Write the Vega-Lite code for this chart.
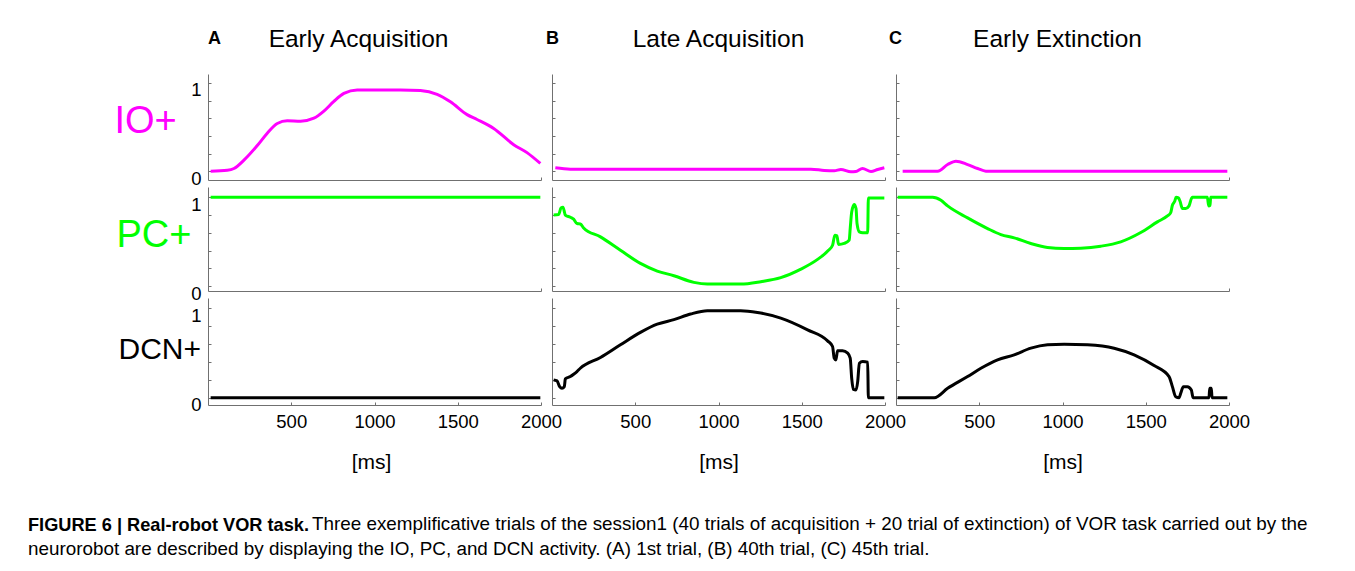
{
  "$schema": "https://vega.github.io/schema/vega-lite/v6.json",
  "padding": {"left": 28, "top": 26, "right": 5, "bottom": 5},
  "background": "white",
  "config": {
    "font": "Liberation Sans",
    "view": {"stroke": null},
    "title": {"font": "Liberation Sans", "color": "#000"},
    "axis": {
      "grid": false, "domainColor": "#707070", "tickColor": "#707070", "domainWidth": 1, "tickWidth": 1,
      "labelFont": "Liberation Sans", "labelFontSize": 18.5, "labelColor": "#000",
      "titleFont": "Liberation Sans", "titleFontWeight": "normal", "titleColor": "#000",
      "labelFlush": false, "labelOverlap": false, "labelBound": false
    }
  },
  "datasets": {
    "ioA": [{"t":16,"v":0},{"t":116,"v":0.01},{"t":156,"v":0.03},{"t":216,"v":0.125},{"t":296,"v":0.29},{"t":356,"v":0.43},{"t":416,"v":0.54},{"t":476,"v":0.57},{"t":556,"v":0.566},{"t":636,"v":0.6},{"t":696,"v":0.68},{"t":756,"v":0.79},{"t":816,"v":0.88},{"t":896,"v":0.92},{"t":1156,"v":0.92},{"t":1276,"v":0.913},{"t":1376,"v":0.87},{"t":1456,"v":0.785},{"t":1556,"v":0.64},{"t":1616,"v":0.585},{"t":1716,"v":0.483},{"t":1836,"v":0.30},{"t":1916,"v":0.21},{"t":1996,"v":0.087}],
    "ioB": [{"t":20,"v":0.038},{"t":110,"v":0.023},{"t":1555,"v":0.023},{"t":1635,"v":0.008},{"t":1695,"v":0.004},{"t":1735,"v":0.019},{"t":1795,"v":-0.008},{"t":1825,"v":-0.004},{"t":1865,"v":0.03},{"t":1916,"v":-0.004},{"t":1956,"v":0.019},{"t":1996,"v":0.038}],
    "ioC": [{"t":40,"v":0},{"t":250,"v":0},{"t":310,"v":0.075},{"t":360,"v":0.113},{"t":430,"v":0.075},{"t":490,"v":0.03},{"t":540,"v":0},{"t":1990,"v":0}],
    "pcA": [{"t":16,"v":1},{"t":1996,"v":1}],
    "pcB": [{"t":10,"v":0.80},{"t":40,"v":0.805},{"t":54,"v":0.88},{"t":66,"v":0.888},{"t":80,"v":0.80},{"t":110,"v":0.775},{"t":130,"v":0.753},{"t":150,"v":0.704},{"t":170,"v":0.70},{"t":190,"v":0.655},{"t":291,"v":0.554},{"t":411,"v":0.404},{"t":531,"v":0.255},{"t":632,"v":0.169},{"t":732,"v":0.116},{"t":852,"v":0.041},{"t":933,"v":0.022},{"t":1133,"v":0.022},{"t":1254,"v":0.049},{"t":1374,"v":0.094},{"t":1495,"v":0.19},{"t":1595,"v":0.30},{"t":1659,"v":0.40},{"t":1685,"v":0.46},{"t":1699,"v":0.573},{"t":1711,"v":0.566},{"t":1721,"v":0.468},{"t":1755,"v":0.48},{"t":1785,"v":0.517},{"t":1791,"v":0.648},{"t":1800,"v":0.835},{"t":1815,"v":0.918},{"t":1826,"v":0.873},{"t":1832,"v":0.704},{"t":1846,"v":0.61},{"t":1866,"v":0.60},{"t":1896,"v":0.60},{"t":1900,"v":0.993},{"t":1996,"v":0.993}],
    "pcC": [{"t":10,"v":1},{"t":220,"v":1},{"t":270,"v":0.966},{"t":310,"v":0.903},{"t":430,"v":0.768},{"t":550,"v":0.648},{"t":630,"v":0.58},{"t":710,"v":0.543},{"t":810,"v":0.479},{"t":910,"v":0.434},{"t":1010,"v":0.423},{"t":1110,"v":0.427},{"t":1230,"v":0.449},{"t":1350,"v":0.498},{"t":1470,"v":0.603},{"t":1570,"v":0.723},{"t":1630,"v":0.79},{"t":1650,"v":0.828},{"t":1660,"v":0.91},{"t":1674,"v":0.955},{"t":1682,"v":1},{"t":1696,"v":0.993},{"t":1706,"v":0.955},{"t":1720,"v":0.873},{"t":1740,"v":0.873},{"t":1760,"v":0.903},{"t":1774,"v":0.985},{"t":1780,"v":1},{"t":1870,"v":1},{"t":1878,"v":0.903},{"t":1886,"v":0.91},{"t":1890,"v":1},{"t":1990,"v":1}],
    "dcnA": [{"t":16,"v":0},{"t":1996,"v":0}],
    "dcnB": [{"t":10,"v":0.198},{"t":30,"v":0.187},{"t":46,"v":0.123},{"t":60,"v":0.104},{"t":74,"v":0.123},{"t":80,"v":0.209},{"t":110,"v":0.235},{"t":130,"v":0.261},{"t":150,"v":0.291},{"t":170,"v":0.328},{"t":291,"v":0.448},{"t":411,"v":0.59},{"t":531,"v":0.728},{"t":632,"v":0.82},{"t":732,"v":0.87},{"t":832,"v":0.933},{"t":933,"v":0.97},{"t":1133,"v":0.97},{"t":1234,"v":0.951},{"t":1374,"v":0.888},{"t":1535,"v":0.757},{"t":1655,"v":0.634},{"t":1685,"v":0.571},{"t":1695,"v":0.44},{"t":1705,"v":0.42},{"t":1715,"v":0.522},{"t":1745,"v":0.522},{"t":1776,"v":0.496},{"t":1791,"v":0.44},{"t":1800,"v":0.216},{"t":1810,"v":0.093},{"t":1826,"v":0.086},{"t":1836,"v":0.179},{"t":1846,"v":0.384},{"t":1866,"v":0.403},{"t":1896,"v":0.396},{"t":1900,"v":0},{"t":1996,"v":0}],
    "dcnC": [{"t":10,"v":0},{"t":230,"v":0},{"t":310,"v":0.104},{"t":430,"v":0.235},{"t":510,"v":0.328},{"t":610,"v":0.422},{"t":710,"v":0.478},{"t":810,"v":0.552},{"t":910,"v":0.59},{"t":1010,"v":0.597},{"t":1150,"v":0.59},{"t":1310,"v":0.552},{"t":1430,"v":0.478},{"t":1550,"v":0.358},{"t":1640,"v":0.235},{"t":1660,"v":0.123},{"t":1680,"v":0.011},{"t":1700,"v":0},{"t":1710,"v":0.049},{"t":1726,"v":0.123},{"t":1750,"v":0.123},{"t":1774,"v":0.086},{"t":1784,"v":0},{"t":1880,"v":0},{"t":1884,"v":0.104},{"t":1894,"v":0.104},{"t":1898,"v":0},{"t":1990,"v":0}]
  },
  "title": {"text": "neurorobot are described by displaying the IO, PC, and DCN activity. (A) 1st trial, (B) 40th trial, (C) 45th trial.", "orient": "bottom", "anchor": "start", "frame": "bounds", "fontSize": 18.85, "fontWeight": "normal", "baseline": "alphabetic", "offset": 21},
  "vconcat": [
    {
      "title": {"text": "Three exemplificative trials of the session1 (40 trials of acquisition + 20 trial of extinction) of VOR task carried out by the", "orient": "bottom", "anchor": "start", "frame": "bounds", "fontSize": 18.85, "fontWeight": "normal", "baseline": "alphabetic", "offset": 0, "dx": 284, "dy": -4},
      "vconcat": [
        {
          "title": {"text": "FIGURE 6 | Real-robot VOR task.", "orient": "bottom", "anchor": "start", "frame": "bounds", "fontSize": 18.2, "fontWeight": "bold", "baseline": "alphabetic", "offset": 59, "dx": -86},
          "columns": 3,
          "spacing": {"row": 7, "column": 11},
          "bounds": "flush",
          "concat": [
            {"title": {"text": "A", "anchor": "start", "frame": "group", "fontSize": 18, "fontWeight": "bold", "baseline": "alphabetic", "offset": 4}, "width": 333, "height": 1, "data": {"values": []}, "mark": "point", "encoding": {}},
            {"title": {"text": "B", "anchor": "start", "frame": "group", "fontSize": 18, "fontWeight": "bold", "baseline": "alphabetic", "offset": 4, "dx": -6}, "width": 333, "height": 1, "data": {"values": []}, "mark": "point", "encoding": {}},
            {"title": {"text": "C", "anchor": "start", "frame": "group", "fontSize": 18, "fontWeight": "bold", "baseline": "alphabetic", "offset": 4, "dx": -7}, "width": 333, "height": 1, "data": {"values": []}, "mark": "point", "encoding": {}},
            {
              "title": {"text": "Early Acquisition", "anchor": "middle", "frame": "group", "fontSize": 24.5, "fontWeight": "normal", "baseline": "alphabetic", "offset": 3, "dx": -16},
              "width": 333, "height": 106,
              "data": {"name": "ioA"},
              "mark": {"type": "line", "color": "#ff00ff", "strokeWidth": 3, "interpolate": "monotone"},
              "encoding": {
                "x": {"field": "t", "type": "quantitative", "scale": {"domain": [0, 2000], "nice": false}, "axis": {"values": [2000], "tickSize": -3, "labels": false, "title": null}},
                "y": {"field": "v", "type": "quantitative", "scale": {"domain": [-0.1, 1.1], "nice": false, "zero": false}, "axis": {"values": [0, 0.2, 0.4, 0.6, 0.8, 1], "tickSize": -3, "labelExpr": "datum.value == 0 ? '0' : datum.value == 1 ? '1' : ''", "labelBaseline": "top", "labelOffset": -2, "labelPadding": 10, "title": "IO+", "titleColor": "#ff00ff", "titleFontSize": 38, "titleAngle": 0, "titleAlign": "left", "titleBaseline": "middle", "titleX": -94, "titleY": 47}}
              }
            },
            {
              "title": {"text": "Late Acquisition", "anchor": "middle", "frame": "group", "fontSize": 24.5, "fontWeight": "normal", "baseline": "alphabetic", "offset": 3},
              "width": 333, "height": 106,
              "data": {"name": "ioB"},
              "mark": {"type": "line", "color": "#ff00ff", "strokeWidth": 3, "interpolate": "monotone"},
              "encoding": {
                "x": {"field": "t", "type": "quantitative", "scale": {"domain": [0, 2000], "nice": false}, "axis": {"values": [2000], "tickSize": -3, "labels": false, "title": null}},
                "y": {"field": "v", "type": "quantitative", "scale": {"domain": [-0.1, 1.1], "nice": false, "zero": false}, "axis": {"values": [0, 0.2, 0.4, 0.6, 0.8, 1], "tickSize": -3, "labels": false, "title": null}}
              }
            },
            {
              "title": {"text": "Early Extinction", "anchor": "middle", "frame": "group", "fontSize": 24.5, "fontWeight": "normal", "baseline": "alphabetic", "offset": 3, "dx": -5},
              "width": 333, "height": 106,
              "data": {"name": "ioC"},
              "mark": {"type": "line", "color": "#ff00ff", "strokeWidth": 3, "interpolate": "monotone"},
              "encoding": {
                "x": {"field": "t", "type": "quantitative", "scale": {"domain": [0, 2000], "nice": false}, "axis": {"values": [2000], "tickSize": -3, "labels": false, "title": null}},
                "y": {"field": "v", "type": "quantitative", "scale": {"domain": [-0.1, 1.1], "nice": false, "zero": false}, "axis": {"values": [0, 0.2, 0.4, 0.6, 0.8, 1], "tickSize": -3, "labels": false, "title": null}}
              }
            },
            {
              "width": 333, "height": 104,
              "data": {"name": "pcA"},
              "mark": {"type": "line", "color": "#00ff00", "strokeWidth": 3, "interpolate": "monotone"},
              "encoding": {
                "x": {"field": "t", "type": "quantitative", "scale": {"domain": [0, 2000], "nice": false}, "axis": {"values": [2000], "tickSize": -3, "labels": false, "title": null}},
                "y": {"field": "v", "type": "quantitative", "scale": {"domain": [-0.056, 1.116], "nice": false, "zero": false}, "axis": {"values": [0, 0.2, 0.4, 0.6, 0.8, 1], "tickSize": -3, "labelExpr": "datum.value == 0 ? '0' : datum.value == 1 ? '1' : ''", "labelBaseline": "top", "labelOffset": -2, "labelPadding": 10, "title": "PC+", "titleColor": "#00ff00", "titleFontSize": 38, "titleAngle": 0, "titleAlign": "left", "titleBaseline": "middle", "titleX": -92, "titleY": 48}}
              }
            },
            {
              "width": 333, "height": 104,
              "data": {"name": "pcB"},
              "mark": {"type": "line", "color": "#00ff00", "strokeWidth": 3, "interpolate": "monotone"},
              "encoding": {
                "x": {"field": "t", "type": "quantitative", "scale": {"domain": [0, 2000], "nice": false}, "axis": {"values": [2000], "tickSize": -3, "labels": false, "title": null}},
                "y": {"field": "v", "type": "quantitative", "scale": {"domain": [-0.056, 1.116], "nice": false, "zero": false}, "axis": {"values": [0, 0.2, 0.4, 0.6, 0.8, 1], "tickSize": -3, "labels": false, "title": null}}
              }
            },
            {
              "width": 333, "height": 104,
              "data": {"name": "pcC"},
              "mark": {"type": "line", "color": "#00ff00", "strokeWidth": 3, "interpolate": "monotone"},
              "encoding": {
                "x": {"field": "t", "type": "quantitative", "scale": {"domain": [0, 2000], "nice": false}, "axis": {"values": [2000], "tickSize": -3, "labels": false, "title": null}},
                "y": {"field": "v", "type": "quantitative", "scale": {"domain": [-0.056, 1.116], "nice": false, "zero": false}, "axis": {"values": [0, 0.2, 0.4, 0.6, 0.8, 1], "tickSize": -3, "labels": false, "title": null}}
              }
            },
            {
              "width": 333, "height": 107,
              "data": {"name": "dcnA"},
              "mark": {"type": "line", "color": "#000000", "strokeWidth": 3, "interpolate": "monotone"},
              "encoding": {
                "x": {"field": "t", "type": "quantitative", "scale": {"domain": [0, 2000], "nice": false}, "axis": {"values": [500, 1000, 1500, 2000], "format": "d", "tickSize": -3, "labelPadding": 10, "title": "[ms]", "titleFontSize": 21, "titleY": 57, "titleBaseline": "middle", "titleX": 163}},
                "y": {"field": "v", "type": "quantitative", "scale": {"domain": [-0.082, 1.112], "nice": false, "zero": false}, "axis": {"values": [0, 0.2, 0.4, 0.6, 0.8, 1], "tickSize": -3, "labelExpr": "datum.value == 0 ? '0' : datum.value == 1 ? '1' : ''", "labelBaseline": "top", "labelOffset": -2, "labelPadding": 10, "title": "DCN+", "titleColor": "#000000", "titleFontSize": 30, "titleAngle": 0, "titleAlign": "left", "titleBaseline": "middle", "titleX": -90, "titleY": 51}}
              }
            },
            {
              "width": 333, "height": 107,
              "data": {"name": "dcnB"},
              "mark": {"type": "line", "color": "#000000", "strokeWidth": 3, "interpolate": "monotone"},
              "encoding": {
                "x": {"field": "t", "type": "quantitative", "scale": {"domain": [0, 2000], "nice": false}, "axis": {"values": [500, 1000, 1500, 2000], "format": "d", "tickSize": -3, "labelPadding": 10, "title": "[ms]", "titleFontSize": 21, "titleY": 57, "titleBaseline": "middle"}},
                "y": {"field": "v", "type": "quantitative", "scale": {"domain": [-0.082, 1.112], "nice": false, "zero": false}, "axis": {"values": [0, 0.2, 0.4, 0.6, 0.8, 1], "tickSize": -3, "labels": false, "title": null}}
              }
            },
            {
              "width": 333, "height": 107,
              "data": {"name": "dcnC"},
              "mark": {"type": "line", "color": "#000000", "strokeWidth": 3, "interpolate": "monotone"},
              "encoding": {
                "x": {"field": "t", "type": "quantitative", "scale": {"domain": [0, 2000], "nice": false}, "axis": {"values": [500, 1000, 1500, 2000], "format": "d", "tickSize": -3, "labelPadding": 10, "title": "[ms]", "titleFontSize": 21, "titleY": 57, "titleBaseline": "middle"}},
                "y": {"field": "v", "type": "quantitative", "scale": {"domain": [-0.082, 1.112], "nice": false, "zero": false}, "axis": {"values": [0, 0.2, 0.4, 0.6, 0.8, 1], "tickSize": -3, "labels": false, "title": null}}
              }
            }
          ]
        }
      ]
    }
  ]
}
